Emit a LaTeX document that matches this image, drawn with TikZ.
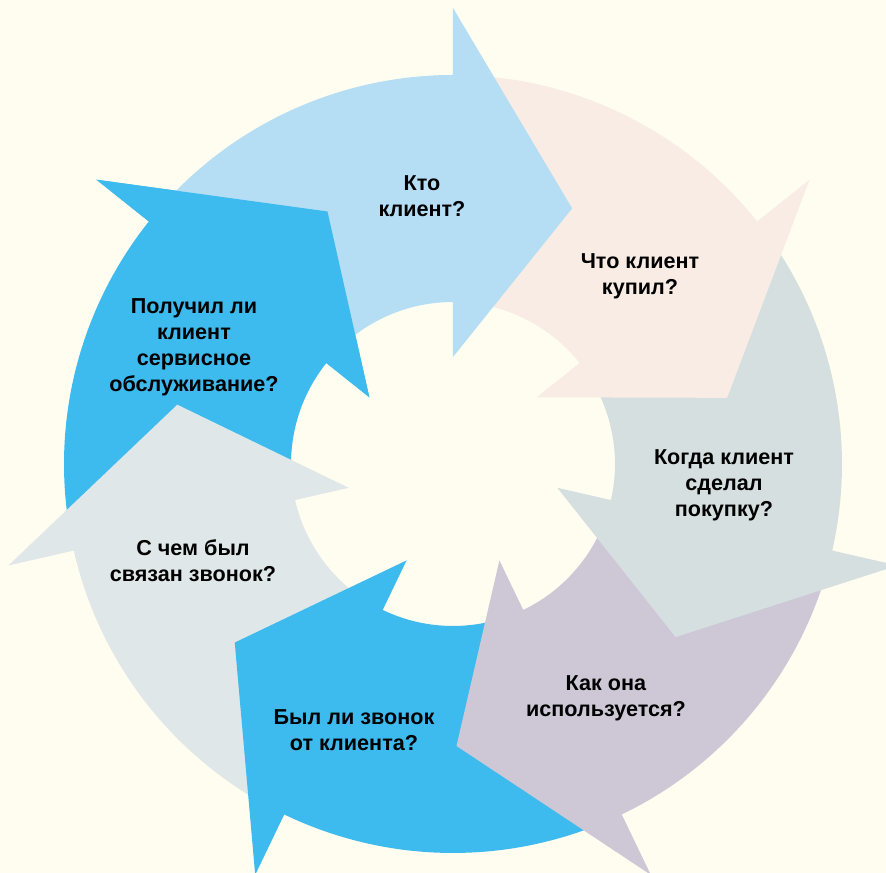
\documentclass[tikz,border=0pt]{standalone}
\usepackage{fontspec}
\setmainfont{Liberation Sans}

\definecolor{bgcream}{RGB}{255,253,240}
\definecolor{skyblue}{RGB}{181,222,245}
\definecolor{peach}{RGB}{249,236,228}
\definecolor{greyblue}{RGB}{213,223,224}
\definecolor{lavender}{RGB}{206,200,214}
\definecolor{brightblue}{RGB}{61,186,238}
\definecolor{lightgrey}{RGB}{223,231,232}

\begin{document}
\begin{tikzpicture}[x=0.75pt, y=0.75pt]
        \tikzstyle{label_style} = [align=center, text=black, font=\bfseries\fontsize{16.2}{19.5}\selectfont]

        % background, centre of the ring at the origin
        \fill[bgcream] (-453,-409) rectangle (433,464);
        \useasboundingbox (-453,-409) rectangle (433,464);

        % Arrows, drawn backwards so that each head lies on the next tail
        % (G) on the left, service
        \fill[brightblue] (192.86:389) arc[start angle=192.86, end angle=141.43, radius=389] -- (141.43:456) -- (116.43:282) -- (141.43:107) -- (141.43:162) arc[start angle=141.43, end angle=192.86, radius=162] -- cycle;
        % (F) topic of the call
        \fill[lightgrey] (-115.71:389) arc[start angle=-115.71, end angle=-167.14, radius=389] -- (-167.14:456) -- (-192.14:282) -- (-167.14:107) -- (-167.14:162) arc[start angle=-167.14, end angle=-115.71, radius=162] -- cycle;
        % (E) at the bottom, the call
        \fill[brightblue] (-64.29:389) arc[start angle=-64.29, end angle=-115.71, radius=389] -- (-115.71:456) -- (-140.71:282) -- (-115.71:107) -- (-115.71:162) arc[start angle=-115.71, end angle=-64.29, radius=162] -- cycle;
        % (D) how it is used
        \fill[lavender] (-12.86:389) arc[start angle=-12.86, end angle=-64.29, radius=389] -- (-64.29:456) -- (-89.29:282) -- (-64.29:107) -- (-64.29:162) arc[start angle=-64.29, end angle=-12.86, radius=162] -- cycle;
        % (C) on the right, when
        \fill[greyblue] (38.57:389) arc[start angle=38.57, end angle=-12.86, radius=389] -- (-12.86:456) -- (-37.86:282) -- (-12.86:107) -- (-12.86:162) arc[start angle=-12.86, end angle=38.57, radius=162] -- cycle;
        % (B) what was bought
        \fill[peach] (90:389) arc[start angle=90, end angle=38.57, radius=389] -- (38.57:456) -- (13.57:282) -- (38.57:107) -- (38.57:162) arc[start angle=38.57, end angle=90, radius=162] -- cycle;
        % (A) at the top, who (tail starts inside the head of (G))
        \fill[skyblue] (137:389) arc[start angle=137, end angle=90, radius=389] -- (90:456) -- (65:282) -- (90:107) -- (90:162) arc[start angle=90, end angle=137, radius=162] -- cycle;

        % head of (G) once more, over the tail of (A)
        \fill[brightblue] (141.43:456) -- (116.43:282) -- (141.43:107) -- cycle;

        % Labels
        \node[label_style] (who) at (-31,268) {Кто\\клиент?};
        \node[label_style] (what) at (187,188) {Что клиент\\купил?};
        \node[label_style] (when) at (271,-21) {Когда клиент\\сделал\\покупку?};
        \node[label_style] (how) at (153,-234) {Как она\\используется?};
        \node[label_style] (call) at (-99,-266) {Был ли звонок\\от клиента?};
        \node[label_style] (topic) at (-260,-97) {С чем был\\связан звонок?};
        \node[label_style] (service) at (-259,117) {Получил ли\\клиент\\сервисное\\обслуживание?};
    \end{tikzpicture}
\end{document}
